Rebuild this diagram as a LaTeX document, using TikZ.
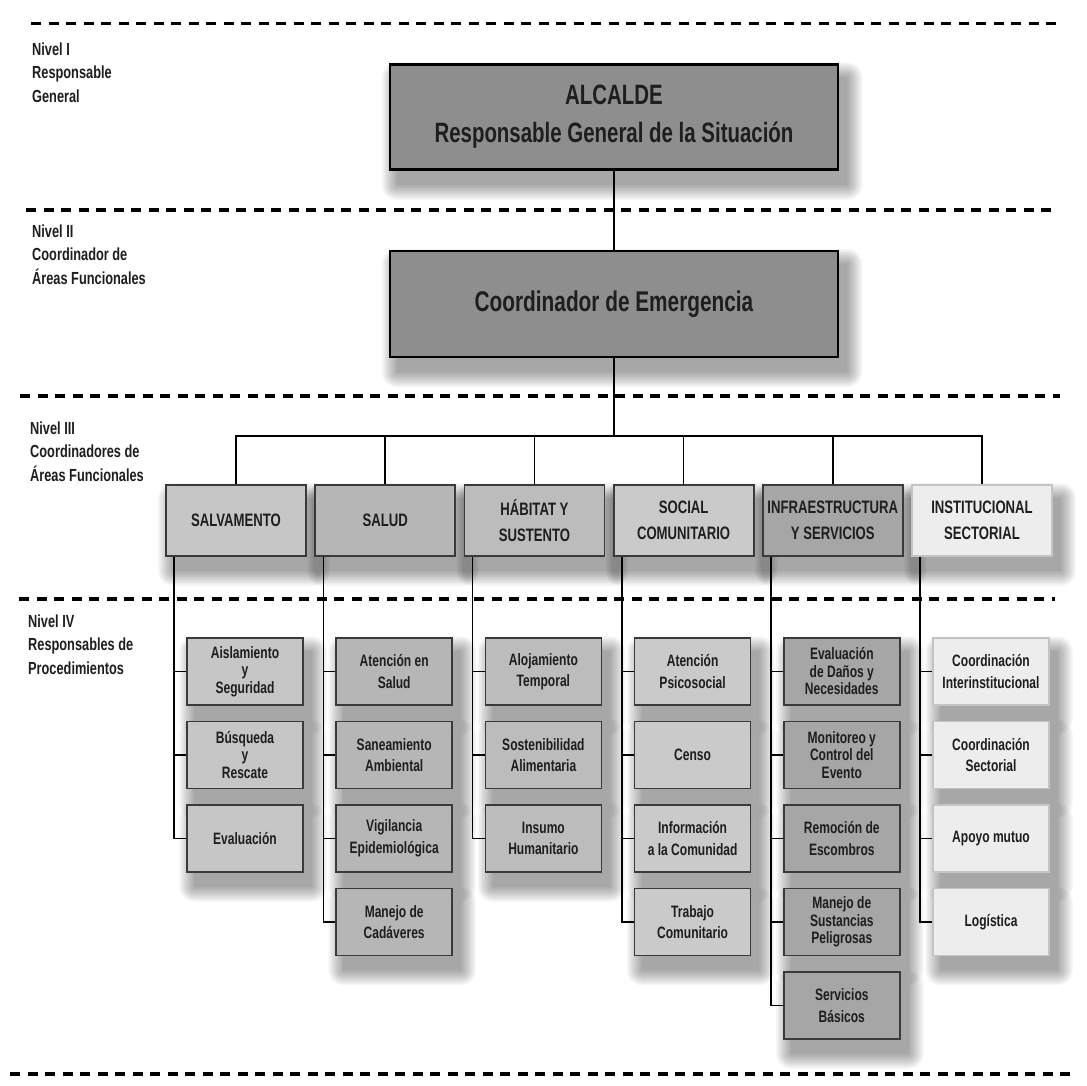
\documentclass[tikz,border=0pt]{standalone}
\usepackage{fontspec}
\setmainfont{Liberation Sans}[FakeStretch=0.73]
\usetikzlibrary{calc,backgrounds}

\definecolor{tinta}{HTML}{1E1E1E}
\definecolor{jefegris}{HTML}{8E8E8E}
\definecolor{salvgris}{HTML}{C6C6C6}
\definecolor{saludgris}{HTML}{B6B6B6}
\definecolor{habgris}{HTML}{BCBCBC}
\definecolor{socialgris}{HTML}{CACACA}
\definecolor{infragris}{HTML}{A6A6A6}
\definecolor{instgris}{HTML}{EDEDED}
\definecolor{bordegris}{HTML}{3A3A3A}
\definecolor{bordeclaro}{HTML}{C4C4C4}

% sombra difusa bajo un nodo
\newcommand{\sombrear}[1]{%
	\foreach \k in {0,...,10} {
		\pgfmathsetmacro\radio{1.5*\k}
		\fill[black, opacity=0.035, rounded corners=\radio pt] ($(#1.north west)+(8-\radio,14-\radio)$) rectangle ($(#1.south east)+(8+\radio,14+\radio)$);
	}}

\begin{document}
\begin{tikzpicture}[x=1pt, y=-1pt,
		every node/.style = {text=tinta},
		nivel/.style = {anchor=north west, align=left, inner sep=0pt, font=\bfseries\fontsize{17.5}{23.5}\selectfont},
		jefe/.style = {draw=black, line width=2.5pt, fill=jefegris, minimum width=448pt, minimum height=105pt, align=center},
		area/.style = {draw=bordegris, line width=1.8pt, minimum width=140pt, minimum height=71pt, align=center, font=\bfseries\fontsize{18}{26}\selectfont},
		proc/.style = {draw=bordegris, line width=1.5pt, minimum width=116pt, minimum height=67pt, align=center, font=\bfseries\fontsize{16.5}{21.5}\selectfont},
		ajustado/.style = {font=\bfseries\fontsize{16.5}{17.5}\selectfont},
		suelto/.style = {},
		separador/.style = {line width=3.3pt, dash pattern=on 10pt off 7.5pt},
		enlace/.style = {line width=1.6pt}
		]
		\begin{scope}[on background layer]
			\fill[white] (0,0) rectangle (1087,1085);
		\end{scope}
		\useasboundingbox (0,0) rectangle (1087,1085);

		% separadores de nivel
		\draw[separador] (31,23.5) -- (1060,23.5);
		\draw[separador] (26,210) -- (1058,210);
		\draw[separador] (20,396) -- (1060,396);
		\draw[separador] (19,599) -- (1055,599);
		\draw[separador] (10,1074) -- (1075,1074);

		% etiquetas de nivel
		\node[nivel] (nivel-1) at (32,42.5) {Nivel I\\Responsable\\General};
		\node[nivel] (nivel-2) at (32,224.5) {Nivel II\\Coordinador de\\Áreas Funcionales};
		\node[nivel] (nivel-3) at (30,421.5) {Nivel III\\Coordinadores de\\Áreas Funcionales};
		\node[nivel] (nivel-4) at (28,614.5) {Nivel IV\\Responsables de\\Procedimientos};

		% niveles I y II
		\node[jefe, font=\bfseries\fontsize{28}{38}\selectfont] (alcalde) at (614,117) {ALCALDE\\Responsable General de la Situación};
		\node[jefe, minimum height=106pt, font=\bfseries\fontsize{28.5}{34}\selectfont] (coord) at (614,304) {Coordinador de Emergencia};

		% nivel III
		\foreach \nombre/\texto/\relleno/\borde [count=\i from 0] in {
			salv/SALVAMENTO/salvgris/bordegris,
			salud/SALUD/saludgris/bordegris,
			habitat/{HÁBITAT Y\\SUSTENTO}/habgris/bordegris,
			social/{SOCIAL\\COMUNITARIO}/socialgris/bordegris,
			infra/{INFRAESTRUCTURA\\Y SERVICIOS}/infragris/bordegris,
			inst/{INSTITUCIONAL\\SECTORIAL}/instgris/bordeclaro}
			\node[area, fill=\relleno, draw=\borde] (\nombre) at ({236+149.2*\i}, 520.5) {\texto};

		% nivel IV
		\foreach \texto/\ajuste [count=\j] in {{Aislamiento\\y\\Seguridad}/ajustado, {Búsqueda\\y\\Rescate}/ajustado, Evaluación/suelto}
			\node[proc, \ajuste, fill=salvgris] (salv-\j) at (245, 588+83.5*\j) {\texto};
		\foreach \texto/\ajuste [count=\j] in {{Atención en\\Salud}/suelto, {Saneamiento\\Ambiental}/suelto, {Vigilancia\\Epidemiológica}/suelto, {Manejo de\\Cadáveres}/suelto}
			\node[proc, \ajuste, fill=saludgris] (salud-\j) at (394.2, 588+83.5*\j) {\texto};
		\foreach \texto/\ajuste [count=\j] in {{Alojamiento\\Temporal}/suelto, {Sostenibilidad\\Alimentaria}/suelto, {Insumo\\Humanitario}/suelto}
			\node[proc, \ajuste, fill=habgris] (habitat-\j) at (543.4, 588+83.5*\j) {\texto};
		\foreach \texto/\ajuste [count=\j] in {{Atención\\Psicosocial}/suelto, Censo/suelto, {Información\\a la Comunidad}/suelto, {Trabajo\\Comunitario}/suelto}
			\node[proc, \ajuste, fill=socialgris] (social-\j) at (692.6, 588+83.5*\j) {\texto};
		\foreach \texto/\ajuste [count=\j] in {{Evaluación\\de Daños y\\Necesidades}/ajustado, {Monitoreo y\\Control del\\Evento}/ajustado, {Remoción de\\Escombros}/suelto, {Manejo de\\Sustancias\\Peligrosas}/ajustado, {Servicios\\Básicos}/suelto}
			\node[proc, \ajuste, fill=infragris] (infra-\j) at (841.8, 588+83.5*\j) {\texto};
		\foreach \texto/\ajuste [count=\j] in {{Coordinación\\Interinstitucional}/suelto, {Coordinación\\Sectorial}/suelto, {Apoyo mutuo}/suelto, Logística/suelto}
			\node[proc, \ajuste, fill=instgris, draw=bordeclaro] (inst-\j) at (991, 588+83.5*\j) {\texto};

		% conectores
		\draw[enlace] (alcalde.south) -- (coord.north);
		\coordinate (bus) at (614,436);
		\draw[enlace] (coord.south) -- (bus);
		\foreach \nombre in {salv,salud,habitat,social,infra,inst}
			\draw[enlace] (bus) -| (\nombre.north);
		\foreach \nombre/\n in {salv/3,salud/4,habitat/3,social/4,infra/5,inst/4} {
			\coordinate (\nombre-eje) at ($(\nombre.south west)+(9,0)$);
			\foreach \j in {1,...,\n}
				\draw[enlace] (\nombre-eje) |- (\nombre-\j.west);
		}

		% sombras
		\begin{scope}[on background layer]
			\sombrear{alcalde}
			\sombrear{coord}
			\foreach \nombre/\n in {salv/3,salud/4,habitat/3,social/4,infra/5,inst/4} {
				\sombrear{\nombre}
				\foreach \j in {1,...,\n} {\sombrear{\nombre-\j}}
			}
		\end{scope}
	\end{tikzpicture}
\end{document}
